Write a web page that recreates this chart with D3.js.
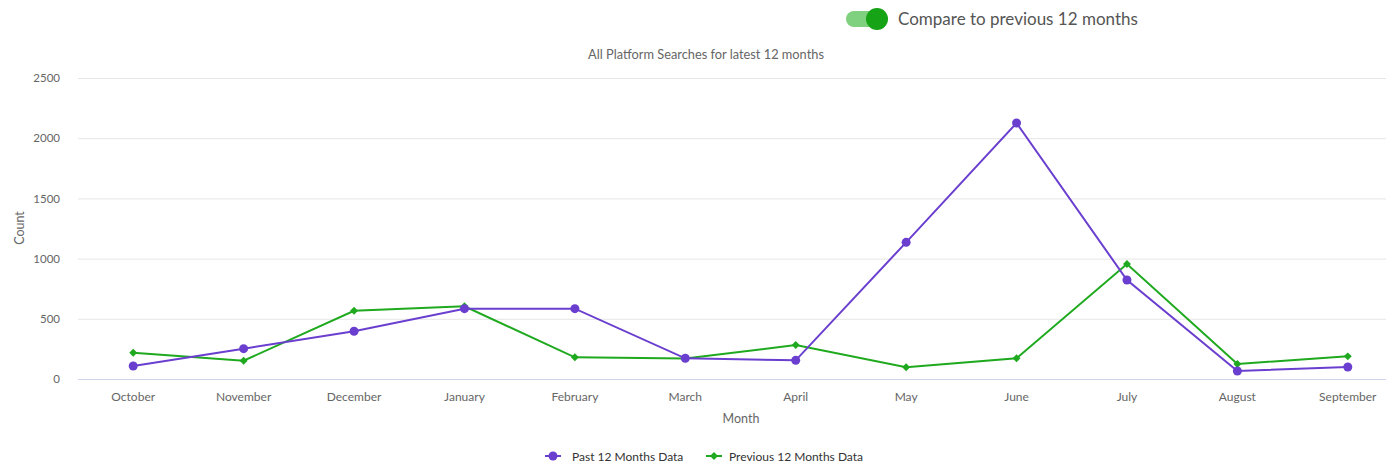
<!DOCTYPE html>
<html>
<head>
<meta charset="utf-8">
<script src="https://cdn.jsdelivr.net/npm/d3@7"></script>
<style>
  html, body { margin: 0; padding: 0; background: #fff; overflow: hidden; }
  body { font-family: Lato, "Open Sans", sans-serif; }
</style>
</head>
<body>
<script>
// chart data
var months = ["October", "November", "December", "January", "February", "March",
              "April", "May", "June", "July", "August", "September"];
var pastValues = [108, 252, 397, 584, 584, 172, 155, 1135, 2126, 822, 66, 100];
var prevValues = [218, 152, 567, 604, 180, 170, 282, 97, 172, 955, 125, 188];
var yTicks = [0, 500, 1000, 1500, 2000, 2500];
var seriesNames = ["Past 12 Months Data", "Previous 12 Months Data"];

(function drawChart () {
    "use strict";
    var width = 1386,
        height = 464,
        purple = "#6a3fcf",
        green = "#1ea91e",
        svg;

    svg = d3.select("body").append("svg")
        .attr("width", width)
        .attr("height", height);

    var x = d3.scaleBand().domain(months).range([78, 1403]);
    var y = d3.scaleLinear().domain([0, 2500]).range([379, 78]);
    var cx = function (d, i) { return x(months[i]) + x.bandwidth() / 2; };

    // toggle switch + label
    var tog = svg.append("g");
    tog.append("rect")
        .attr("x", 846).attr("y", 11).attr("width", 34).attr("height", 16)
        .attr("rx", 8).attr("fill", "#7fd07f");
    tog.append("circle")
        .attr("cx", 877).attr("cy", 19).attr("r", 11).attr("fill", "#16a316");
    tog.append("text")
        .attr("x", 898).attr("y", 25)
        .attr("font-size", 17).attr("fill", "#555")
        .text("Compare to previous 12 months");

    // title
    svg.append("text")
        .attr("x", 706).attr("y", 59)
        .attr("text-anchor", "middle")
        .attr("font-size", 12.8).attr("fill", "#666")
        .text("All Platform Searches for latest 12 months");

    // grid + y labels
    var yAxis = svg.append("g").attr("transform", "translate(78,0)")
        .call(d3.axisLeft(y).tickValues(yTicks).tickFormat(d3.format("d"))
            .tickSize(-1325).tickPadding(18));
    yAxis.select(".domain").remove();
    yAxis.selectAll(".tick line").attr("stroke", "#e6e6e6");
    yAxis.selectAll(".tick").filter(function (d) { return d === 0; }).select("line").remove();
    yAxis.selectAll(".tick text")
        .attr("font-family", "Lato, sans-serif")
        .attr("font-size", 11.5).attr("fill", "#666");

    // x axis
    var xAxis = svg.append("g").attr("transform", "translate(0,379)")
        .call(d3.axisBottom(x).tickSize(0).tickPadding(13));
    xAxis.select(".domain").attr("stroke", "#ccd6eb").attr("d", "M78,0.5H1403");
    xAxis.selectAll(".tick text")
        .attr("font-family", "Lato, sans-serif")
        .attr("font-size", 12).attr("fill", "#666");

    // axis titles
    svg.append("text")
        .attr("x", 741).attr("y", 423)
        .attr("text-anchor", "middle")
        .attr("font-size", 12.5).attr("fill", "#666")
        .text("Month");
    svg.append("text")
        .attr("transform", "translate(24,228)rotate(-90)")
        .attr("text-anchor", "middle")
        .attr("font-size", 12.5).attr("fill", "#666")
        .text("Count");

    var line = d3.line().x(cx).y(function (d) { return y(d); });
    var diamond = d3.symbol().type(d3.symbolDiamond2).size(40);

    // previous series (drawn first, below)
    svg.append("path").datum(prevValues)
        .attr("d", line).attr("fill", "none")
        .attr("stroke", green).attr("stroke-width", 2);
    svg.append("path").datum(pastValues)
        .attr("d", line).attr("fill", "none")
        .attr("stroke", purple).attr("stroke-width", 2);

    svg.selectAll(".pt-prev").data(prevValues).enter().append("path")
        .attr("class", "pt-prev")
        .attr("d", diamond)
        .attr("transform", function (d, i) { return "translate(" + cx(d, i) + "," + y(d) + ")"; })
        .attr("fill", green);
    svg.selectAll(".pt-past").data(pastValues).enter().append("circle")
        .attr("class", "pt-past")
        .attr("cx", cx).attr("cy", function (d) { return y(d); })
        .attr("r", 4.5).attr("fill", purple);

    // legend
    var leg = svg.append("g");
    var legX = [545, 706];
    var colors = [purple, green];
    seriesNames.forEach(function (name, i) {
        var g = leg.append("g").attr("transform", "translate(" + legX[i] + ",456)");
        g.append("line").attr("x1", 0).attr("x2", 16).attr("y1", 0).attr("y2", 0)
            .attr("stroke", colors[i]).attr("stroke-width", 2);
        if (i === 0) {
            g.append("circle").attr("cx", 8).attr("cy", 0).attr("r", 4.5).attr("fill", colors[i]);
        } else {
            g.append("path").attr("d", diamond).attr("transform", "translate(8,0)").attr("fill", colors[i]);
        }
        g.append("text").attr("x", 22 + (i === 1 ? 1 : 5)).attr("y", 4.5)
            .attr("font-size", 12).attr("fill", "#333")
            .text(name);
    });
})();
</script>
</body>
</html>
